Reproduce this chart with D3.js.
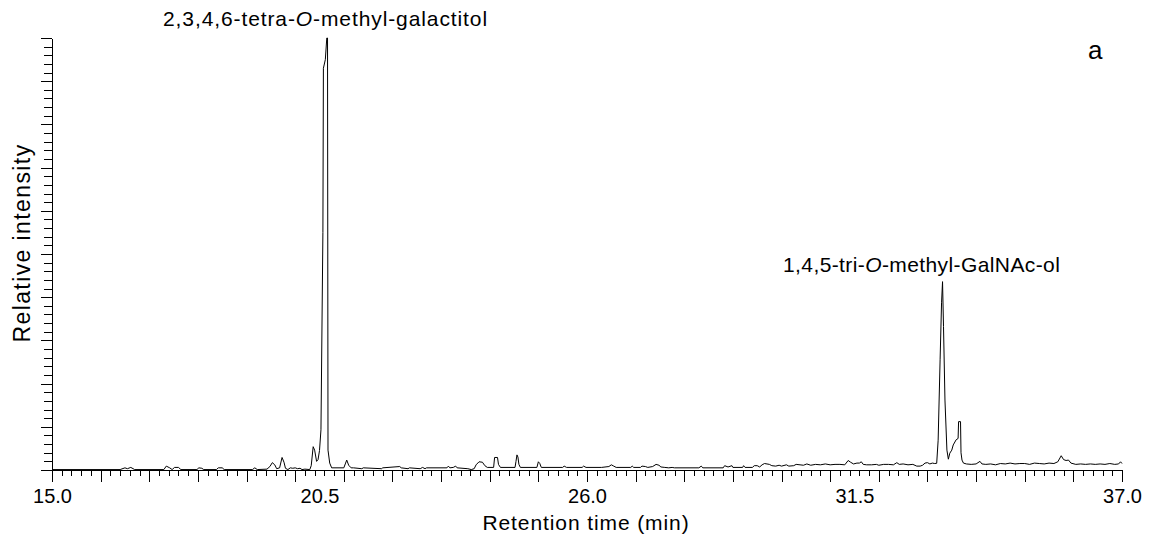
<!DOCTYPE html>
<html>
<head>
<meta charset="utf-8">
<script src="https://cdn.jsdelivr.net/npm/d3@7/dist/d3.min.js"></script>
<style>
  html, body { margin: 0; padding: 0; background: #fff; }
  svg { display: block; }
  text { font-family: "Liberation Sans", Arial, Helvetica, sans-serif; fill: #000; }
</style>
</head>
<body>
<svg id="chart" width="1150" height="541"></svg>
<script>
// ---- data ----
const retentionTime = [
  15.0, 16.4, 16.5, 16.55, 16.62, 16.7, 17.3, 17.35, 17.42, 17.47, 17.52, 17.6, 17.65,
  17.98, 18.02, 18.08, 18.12, 18.38, 18.42, 18.5, 18.54, 19.12, 19.17, 19.22,
  19.42, 19.48, 19.53, 19.58, 19.62, 19.68, 19.73, 19.77, 19.8, 19.85, 19.9, 19.95,
  20.0, 20.05, 20.1, 20.14, 20.2, 20.3, 20.33, 20.37, 20.4, 20.44, 20.47, 20.5,
  20.53, 20.57, 20.58, 20.62, 20.65, 20.665, 20.675, 20.71, 20.75,
  21.0, 21.03, 21.06, 21.1, 21.15, 21.2, 21.37, 21.4, 21.78, 21.8, 22.15, 22.18,
  22.32, 22.35, 22.57, 22.62, 22.67, 22.7, 23.12, 23.15, 23.18, 23.25, 23.3, 23.33,
  23.55, 23.62, 23.68, 23.72, 23.78, 23.85, 23.9, 23.95, 24.08, 24.1, 24.16, 24.18,
  24.22, 24.52, 24.54, 24.56, 24.58, 24.6, 24.63, 24.97, 25.0, 25.03, 25.06,
  25.5, 25.53, 25.58, 25.9, 25.93, 25.98, 26.3, 26.45, 26.5, 26.55, 26.6,
  26.9, 26.93, 26.96, 27.1, 27.13, 27.2, 27.25, 27.35, 27.42, 27.48, 27.52,
  27.6, 27.68, 27.75, 27.8, 28.3, 28.35, 28.38, 28.8, 28.83, 28.9, 28.98, 29.0,
  29.2, 29.22, 29.25, 29.4, 29.44, 29.5, 29.55, 29.6, 29.65, 29.75, 29.8, 29.88,
  29.95, 30.0, 30.1, 30.15, 30.25, 30.3, 30.38, 30.45, 30.52, 30.6, 30.7, 30.8,
  30.9, 31.0, 31.1, 31.2, 31.3, 31.37, 31.42, 31.48, 31.55, 31.6, 31.64, 31.68,
  31.75, 31.85, 31.95, 32.0, 32.1, 32.2, 32.3, 32.37, 32.42, 32.5, 32.6, 32.7,
  32.78, 32.85, 32.9, 32.95, 33.0, 33.05, 33.1, 33.15, 33.19, 33.22, 33.26, 33.29,
  33.31, 33.33, 33.36, 33.4, 33.43, 33.46, 33.5, 33.53, 33.59, 33.63, 33.64, 33.68,
  33.69, 33.71, 33.74, 33.8, 33.9, 34.0, 34.08, 34.12, 34.2, 34.3, 34.4, 34.5,
  34.6, 34.7, 34.8, 34.9, 35.0, 35.1, 35.2, 35.3, 35.4, 35.5, 35.6, 35.68, 35.75,
  35.8, 35.85, 35.9, 35.95, 36.05, 36.15, 36.25, 36.35, 36.45, 36.55, 36.65,
  36.75, 36.85, 36.93, 36.97, 37.0
];
const relativeIntensity = [
  0.1, 0.1, 0.5, 0.3, 0.6, 0.1, 0.1, 0.9, 0.5, 0.1, 0.6, 0.6, 0.1,
  0.1, 0.5, 0.4, 0.1, 0.1, 0.5, 0.5, 0.1, 0.1, 0.5, 0.1,
  0.2, 0.8, 1.7, 1.2, 0.3, 0.5, 2.9, 1.8, 0.4, 0.1, 0.5, 0.4,
  0.5, 0.3, 0.4, 0.1, 0.2, 0.1, 1.0, 5.4, 4.6, 2.0, 2.4, 4.5,
  9.3, 55, 93, 95, 100, 100, 4.6, 1.6, 0.5,
  0.5, 1.4, 2.3, 1.1, 0.5, 0.5, 0.3, 0.5, 0.3, 0.5, 0.8, 0.5,
  0.3, 0.5, 0.3, 0.6, 0.3, 0.5, 0.5, 0.9, 0.5, 0.6, 0.9, 0.5,
  0.3, 0.1, 0.3, 1.2, 1.9, 1.8, 1.0, 0.6, 0.6, 2.9, 2.9, 1.3,
  0.6, 0.6, 2.0, 3.5, 3.0, 1.3, 0.6, 0.6, 1.9, 1.5, 0.6,
  0.6, 0.9, 0.6, 0.6, 0.9, 0.6, 0.6, 0.8, 1.2, 0.9, 0.6,
  0.6, 0.9, 0.6, 0.6, 0.9, 0.8, 0.6, 0.8, 1.3, 1.1, 0.7,
  0.6, 0.5, 0.6, 0.5, 0.5, 0.9, 0.5, 0.5, 1.0, 0.7, 1.0, 0.6,
  0.6, 1.0, 0.6, 0.6, 1.0, 1.0, 0.7, 1.2, 1.5, 1.3, 1.0, 0.9,
  1.1, 0.9, 1.2, 0.9, 1.0, 1.3, 1.2, 1.1, 1.4, 1.1, 1.3, 1.2,
  1.4, 1.2, 1.3, 1.3, 1.2, 2.2, 1.8, 1.4, 1.6, 1.6, 1.9, 1.3,
  1.2, 1.2, 1.3, 1.1, 1.3, 1.3, 1.2, 1.7, 1.3, 1.4, 1.2, 1.3,
  0.9, 0.9, 1.1, 1.6, 1.7, 1.4, 1.6, 1.5, 1.55, 6.9, 25.5, 38.7,
  43.6, 33.2, 16.2, 4.6, 2.5, 3.9, 4.6, 5.8, 7.0, 7.3, 11.2, 11.2,
  4.0, 2.3, 1.6, 1.4, 1.3, 1.4, 2.0, 1.4, 1.3, 1.4, 1.2, 1.5,
  1.4, 1.6, 1.4, 1.5, 1.5, 1.3, 1.6, 1.5, 1.4, 1.6, 1.5, 1.9, 3.3,
  2.4, 2.2, 2.3, 1.6, 1.3, 1.4, 1.3, 1.4, 1.3, 1.4, 1.3,
  1.5, 1.3, 1.4, 1.9, 1.5
];
const xTickLabels = [15.0, 20.5, 26.0, 31.5, 37.0];
const xDomain = [15, 37];
const yDomain = [0, 100];
const peakLabels = [
  { pre: "2,3,4,6-tetra-", it: "O", post: "-methyl-galactitol" },
  { pre: "1,4,5-tri-", it: "O", post: "-methyl-GalNAc-ol" }
];
const panelLetter = "a";
const xTitle = "Retention time (min)";
const yTitle = "Relative intensity";

// ---- drawing ----
const svg = d3.select("#chart");
const x = d3.scaleLinear().domain(xDomain).range([52, 1122]);
const y = d3.scaleLinear().domain(yDomain).range([470, 38]);

const round = v => Math.round(v * 10) / 10;
const minorX = d3.range(0, 111).map(i => round(15 + i * 0.2));
const majorX = d3.range(15, 38, 1);
const minorY = d3.range(0, 101, 2);
const majorY = d3.range(0, 101, 10);

function styleAxis(g) {
  g.selectAll("path, line").attr("stroke", "#000").attr("stroke-width", 1).attr("shape-rendering", "crispEdges");
}

// x axis: minor ticks
svg.append("g").attr("transform", `translate(0,${y(0)})`)
  .call(d3.axisBottom(x).tickValues(minorX).tickSize(6).tickSizeOuter(0).tickFormat(""))
  .call(styleAxis);
// x axis: major ticks
svg.append("g").attr("transform", `translate(0,${y(0)})`)
  .call(d3.axisBottom(x).tickValues(majorX).tickSize(12).tickSizeOuter(0).tickFormat(""))
  .call(g => g.select(".domain").remove())
  .call(styleAxis);
// x axis labels
svg.append("g").attr("transform", `translate(0,${y(0)})`)
  .call(d3.axisBottom(x).tickValues(xTickLabels).tickSize(0).tickPadding(19).tickFormat(d3.format(".1f")))
  .call(g => g.select(".domain").remove())
  .call(g => g.selectAll("text").attr("font-size", 20).attr("font-family", "Liberation Sans, Arial, sans-serif").attr("fill", "#000"));

// y axis: minor and major ticks
svg.append("g").attr("transform", `translate(${x(15)},0)`)
  .call(d3.axisLeft(y).tickValues(minorY).tickSize(8).tickSizeOuter(0).tickFormat(""))
  .call(styleAxis);
svg.append("g").attr("transform", `translate(${x(15)},0)`)
  .call(d3.axisLeft(y).tickValues(majorY).tickSize(11).tickSizeOuter(0).tickFormat(""))
  .call(g => g.select(".domain").remove())
  .call(styleAxis);

// trace
const pts = retentionTime.map((t, i) => [t, relativeIntensity[i]]);
const line = d3.line().x(d => x(d[0])).y(d => y(d[1]));
svg.append("path").datum(pts)
  .attr("d", line)
  .attr("fill", "none")
  .attr("stroke", "#000")
  .attr("stroke-width", 1)
  .attr("stroke-linejoin", "miter");

// axis titles
svg.append("text")
  .attr("x", 586).attr("y", 530)
  .attr("text-anchor", "middle")
  .attr("font-size", 21)
  .attr("letter-spacing", "0.9px")
  .text(xTitle);

svg.append("text")
  .attr("transform", `translate(30,243) rotate(-90)`)
  .attr("text-anchor", "middle")
  .attr("font-size", 23)
  .attr("letter-spacing", "1.4px")
  .text(yTitle);

// peak labels
function peakLabel(lbl, px, py, ls) {
  const t = svg.append("text").attr("x", px).attr("y", py)
    .attr("font-size", 21).attr("letter-spacing", ls);
  t.append("tspan").text(lbl.pre);
  t.append("tspan").attr("font-style", "italic").text(lbl.it);
  t.append("tspan").text(lbl.post);
}
peakLabel(peakLabels[0], 163, 26, "0.9px");
peakLabel(peakLabels[1], 783, 272, "0.4px");

svg.append("text").attr("x", 1088).attr("y", 59).attr("font-size", 26).text(panelLetter);
</script>
</body>
</html>
